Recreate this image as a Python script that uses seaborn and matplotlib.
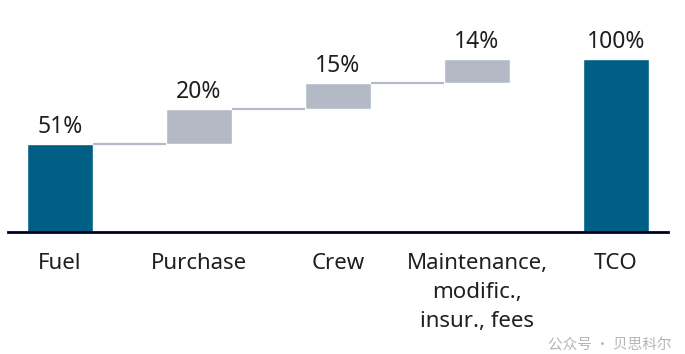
import matplotlib
matplotlib.use("Agg")
import matplotlib.pyplot as plt
import seaborn as sns
import pandas as pd
import numpy as np

categories = ["Fuel", "Purchase", "Crew", "Maintenance,\nmodific.,\ninsur., fees", "TCO"]
values = [51, 20, 15, 14, 100]
labels = ["51%", "20%", "15%", "14%", "100%"]
kinds = ["total", "step", "step", "step", "total"]

DARK = "#005f85"
GRAY = "#b3bac6"

sns.set_theme(style="white")
plt.rcParams["font.family"] = ["Noto Sans", "DejaVu Sans"]

# bottoms for waterfall
bottoms = []
running = 0
for v, k in zip(values, kinds):
    if k == "total":
        bottoms.append(0)
        running = v
    else:
        bottoms.append(running)
        running += v
tops = [b + v for b, v in zip(bottoms, values)]

df = pd.DataFrame({"cat": categories, "val": values})
palette = {c: (DARK if k == "total" else GRAY) for c, k in zip(categories, kinds)}

fig = plt.figure(figsize=(6.85, 3.54), dpi=100)
ax = fig.add_axes([8/685, 1 - 232/354, 660/685, 232/354])
W = 0.475
sns.barplot(data=df, x="cat", y="val", hue="cat", palette=palette, width=W,
            legend=False, ax=ax, saturation=1)
for p, b in zip(ax.patches, bottoms):
    p.set_y(b)

# connectors (only into step bars)
for i in range(len(values) - 1):
    if kinds[i + 1] == "step":
        ax.hlines(tops[i], i + W/2, i + 1 - W/2, color=GRAY, lw=1.6, zorder=1)

# value labels
for i, (t, lab) in enumerate(zip(tops, labels)):
    ax.annotate(lab, (i, t), xytext=(0, 3.5), textcoords="offset points",
                ha="center", va="bottom", fontsize=16.5, color="#1f1f1f")

ax.set_xlim(-0.374, 4.374)
ax.set_ylim(0, 134)
ax.set_xlabel("")
ax.set_ylabel("")
ax.set_yticks([])
for s in ["top", "right", "left"]:
    ax.spines[s].set_visible(False)
ax.spines["bottom"].set_color("#000028")
ax.spines["bottom"].set_linewidth(2)
ax.tick_params(axis="x", length=0, pad=15, labelsize=16, labelcolor="#1f1f1f")
for t in ax.get_xticklabels():
    t.set_linespacing(1.5)

fig.text(672/685, 1 - 345/354, "公众号 · 贝思科尔", ha="right", va="center",
         fontsize=10.5, color="#b5b5b5", family=["Noto Sans CJK SC", "DejaVu Sans"])

fig.savefig("out.png", dpi=100)
